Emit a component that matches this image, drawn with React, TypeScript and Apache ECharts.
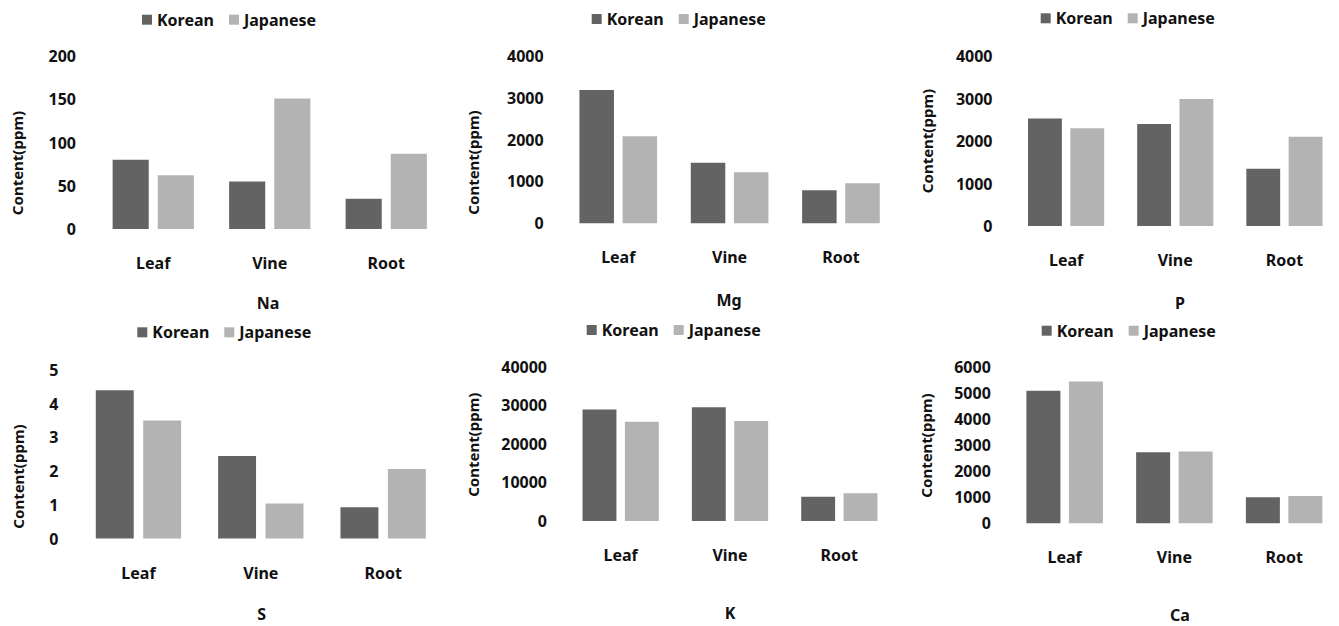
import React, { useEffect, useRef } from "react";
import * as echarts from "echarts";

const categories = ["Leaf", "Vine", "Root"];
const seriesNames = ["Korean", "Japanese"];

const naKorean = [80, 55, 35];
const naJapanese = [62, 151, 87];
const mgKorean = [3190, 1450, 790];
const mgJapanese = [2080, 1220, 955];
const pKorean = [2530, 2400, 1350];
const pJapanese = [2300, 2990, 2100];
const sKorean = [4.4, 2.45, 0.93];
const sJapanese = [3.5, 1.04, 2.06];
const kKorean = [28900, 29500, 6300];
const kJapanese = [25700, 25900, 7200];
const caKorean = [5100, 2730, 1000];
const caJapanese = [5450, 2760, 1050];

const elementTitles = ["Na", "Mg", "P", "S", "K", "Ca"];
const yMax = [200, 4000, 4000, 5, 40000, 6000];
const yInterval = [50, 1000, 1000, 1, 10000, 1000];
const yAxisName = "Content(ppm)";

const panelData = [
  [naKorean, naJapanese],
  [mgKorean, mgJapanese],
  [pKorean, pJapanese],
  [sKorean, sJapanese],
  [kKorean, kJapanese],
  [caKorean, caJapanese],
];

// layout (pixels)
const grids = [
  { left: 95, top: 56, width: 349.5, height: 173 },
  { left: 562.6, top: 56, width: 334, height: 167.3 },
  { left: 1011.5, top: 56, width: 338, height: 170 },
  { left: 77.3, top: 370, width: 367, height: 168.5 },
  { left: 566, top: 366.7, width: 328, height: 154.3 },
  { left: 1009.8, top: 367.3, width: 342, height: 156 },
];
const legendPos = [
  { left: 142, cy: 20.7 },
  { left: 591.7, cy: 20 },
  { left: 1040.7, cy: 19.3 },
  { left: 137.3, cy: 333.3 },
  { left: 586.7, cy: 331 },
  { left: 1041.7, cy: 331.7 },
];
const titlePos = [
  [268, 303],
  [729, 300],
  [1180, 302.7],
  [261.7, 614],
  [730, 613.3],
  [1180, 615],
];
const axisNamePos = [
  [17, 163],
  [473, 162.5],
  [927, 141],
  [18, 476.5],
  [473, 444.7],
  [926, 445.5],
];

const FONT = '"Noto Sans", "DejaVu Sans", sans-serif';
const TEXT = "#111111";
const COLORS = ["#636363", "#b3b3b3"];

export default function App() {
  const ref = useRef<HTMLDivElement>(null);

  useEffect(() => {
    if (!ref.current) return;
    const chart = echarts.init(ref.current, null, { renderer: "svg" });

    const option: any = {
      animation: false,
      backgroundColor: "#ffffff",
      color: COLORS,
      textStyle: { fontFamily: FONT },
      legend: legendPos.map((p) => ({
        data: seriesNames,
        left: p.left,
        top: p.cy - 9,
        padding: 0,
        itemWidth: 10,
        itemHeight: 10,
        itemGap: 15,
        icon: "rect",
        textStyle: { color: TEXT, fontSize: 16, fontWeight: "bold", fontFamily: FONT },
      })),
      grid: grids.map((g) => ({ ...g, containLabel: false })),
      xAxis: grids.map((_, i) => ({
        type: "category",
        gridIndex: i,
        data: categories,
        axisLine: { show: false },
        axisTick: { show: false },
        axisLabel: { margin: 26, color: TEXT, fontSize: 16, fontWeight: "bold", fontFamily: FONT },
      })),
      yAxis: grids.map((_, i) => ({
        type: "value",
        gridIndex: i,
        min: 0,
        max: yMax[i],
        interval: yInterval[i],
        axisLine: { show: false },
        axisTick: { show: false },
        splitLine: { show: false },
        axisLabel: {
          margin: 19,
          color: TEXT,
          fontSize: 16,
          fontWeight: "bold",
          fontFamily: FONT,
          formatter: (v: number) => String(v),
        },
      })),
      series: panelData.flatMap((pair, i) =>
        pair.map((values, s) => ({
          type: "bar",
          name: seriesNames[s],
          xAxisIndex: i,
          yAxisIndex: i,
          data: values,
          barWidth: "31%",
          barGap: "25%",
          itemStyle: { color: COLORS[s] },
        }))
      ),
      graphic: [
        ...elementTitles.map((t, i) => ({
          type: "text",
          x: titlePos[i][0],
          y: titlePos[i][1],
          style: {
            text: t,
            fill: TEXT,
            fontSize: 16,
            fontWeight: "bold",
            fontFamily: FONT,
            align: "center",
            verticalAlign: "middle",
          },
        })),
        ...axisNamePos.map((p) => ({
          type: "text",
          x: p[0],
          y: p[1],
          rotation: Math.PI / 2,
          style: {
            text: yAxisName,
            fill: TEXT,
            fontSize: 15,
            fontWeight: "bold",
            fontFamily: FONT,
            align: "center",
            verticalAlign: "middle",
          },
        })),
      ],
    };

    chart.setOption(option);
    return () => chart.dispose();
  }, []);

  return (
    <div
      ref={ref}
      style={{ position: "absolute", left: 0, top: 0, width: 1339, height: 626 }}
    />
  );
}
